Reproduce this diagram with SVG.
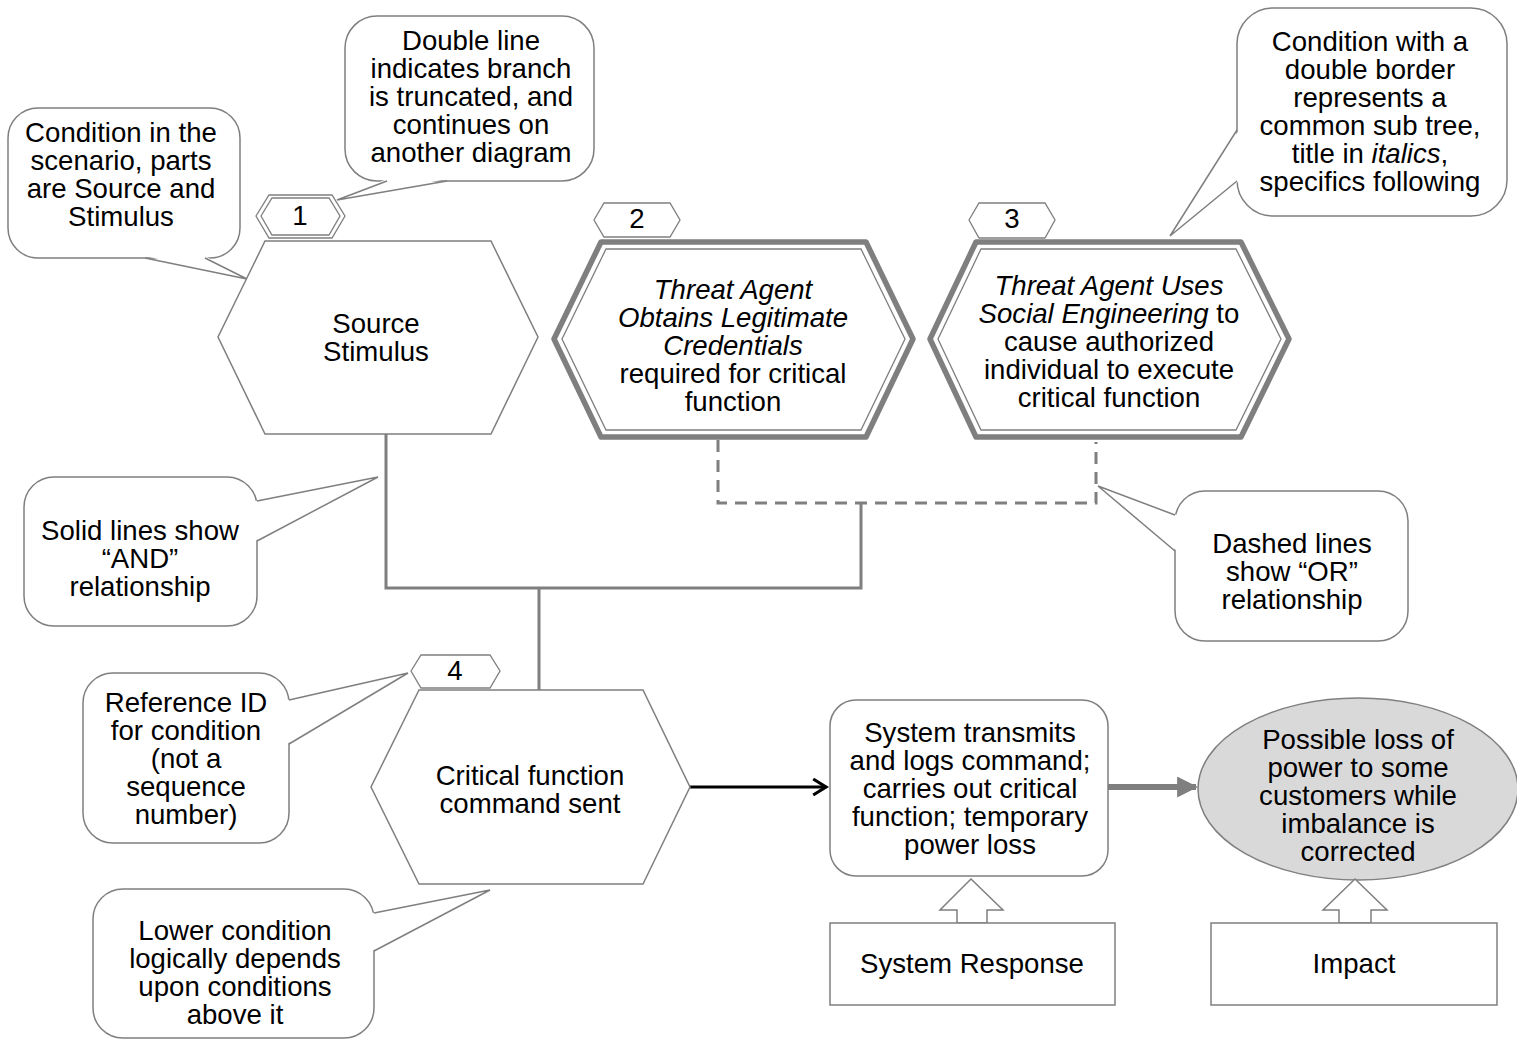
<svg xmlns="http://www.w3.org/2000/svg" width="1517" height="1039" viewBox="0 0 1517 1039">
<defs>
<style>
text{font-family:"Liberation Sans",Arial,sans-serif;font-size:27.6px;fill:#000;text-anchor:middle}
.i{font-style:italic}
.co{fill:#fff;stroke:#7f7f7f;stroke-width:1.5}
.cov{fill:#fff;stroke:none}
.tl{fill:none;stroke:#7f7f7f;stroke-width:1.5;stroke-linejoin:miter}
.hex{fill:#fff;stroke:#7f7f7f;stroke-width:1.5}
.hexT{fill:#fff;stroke:#7f7f7f;stroke-width:5.5;stroke-linejoin:round}
.hexI{fill:none;stroke:#7f7f7f;stroke-width:1.3}
.tag{fill:#fff;stroke:#7f7f7f;stroke-width:1.3}
.and{fill:none;stroke:#7f7f7f;stroke-width:3}
.or{fill:none;stroke:#7f7f7f;stroke-width:3;stroke-dasharray:12 8}
.box{fill:#fff;stroke:#7f7f7f;stroke-width:1.5}
</style>
<marker id="chev" viewBox="0 0 12 12" refX="10" refY="6" markerWidth="6" markerHeight="6" markerUnits="strokeWidth" orient="auto">
<path d="M2,1 L10,6 L2,11" fill="none" stroke="#000" stroke-width="2"/>
</marker>
<marker id="tri" viewBox="0 0 10 10" refX="9" refY="5" markerWidth="3.5" markerHeight="3.5" markerUnits="strokeWidth" orient="auto">
<path d="M0,0 L10,5 L0,10 z" fill="#7f7f7f"/>
</marker>
</defs>

<g id="connectors">
<path class="and" d="M386,434 V588 H861 V503"/>
<path class="and" d="M539,588 V690"/>
<path class="or" d="M718,440 V503 H1096 V442"/>
<line x1="690" y1="787" x2="826" y2="787" stroke="#000" stroke-width="3.2" marker-end="url(#chev)"/>
<line x1="1108" y1="787" x2="1196" y2="787" stroke="#7f7f7f" stroke-width="6" marker-end="url(#tri)"/>
</g>

<g id="callout-condition">
<rect class="co" x="8" y="108" width="232" height="150" rx="30"/>
<polygon class="cov" points="145,256 247,279 205,256"/>
<polyline class="tl" points="145,258 247,279 205,258"/>
<text x="121" y="142">Condition in the</text>
<text x="121" y="170">scenario, parts</text>
<text x="121" y="198">are Source and</text>
<text x="121" y="226">Stimulus</text>
</g>

<g id="callout-double-line">
<rect class="co" x="345" y="16" width="249" height="165" rx="32"/>
<polygon class="cov" points="387,179 337,200 447,179"/>
<polyline class="tl" points="387,181 337,200 447,181"/>
<text x="471" y="50">Double line</text>
<text x="471" y="78">indicates branch</text>
<text x="471" y="106">is truncated, and</text>
<text x="471" y="134">continues on</text>
<text x="471" y="162">another diagram</text>
</g>

<g id="callout-double-border">
<rect class="co" x="1237" y="8" width="270" height="208" rx="36"/>
<polygon class="cov" points="1239,130 1170,236 1239,181"/>
<polyline class="tl" points="1237,130 1170,236 1237,181"/>
<text x="1370" y="51">Condition with a</text>
<text x="1370" y="79">double border</text>
<text x="1370" y="107">represents a</text>
<text x="1370" y="135">common sub tree,</text>
<text x="1370" y="163">title in <tspan class="i">italics</tspan>,</text>
<text x="1370" y="191">specifics following</text>
</g>

<g id="tag1">
<polygon class="tag" points="256,216 269,195 332,195 345,216 332,238 269,238"/>
<polygon class="tag" points="261,216 272,198 329,198 340,216 329,235 272,235"/>
<text x="300" y="225">1</text>
</g>

<g id="tag2">
<polygon class="tag" points="594,220 604,203 670,203 680,220 670,237 604,237"/>
<text x="637" y="228">2</text>
</g>

<g id="tag3">
<polygon class="tag" points="969,220 979,203 1045,203 1055,220 1045,238 979,238"/>
<text x="1012" y="228">3</text>
</g>

<g id="node-source-stimulus">
<polygon class="hex" points="265,241 491,241 538,337 491,434 265,434 218,337"/>
<text x="376" y="333">Source</text>
<text x="376" y="361">Stimulus</text>
</g>

<g id="node-credentials">
<polygon class="hexT" points="601,242 866,242 913,339 866,437 601,437 554,339"/>
<polygon class="hexI" points="606,249 861,249 905,339 861,430 606,430 562,339"/>
<text x="733" y="299" class="i">Threat Agent</text>
<text x="733" y="327" class="i">Obtains Legitimate</text>
<text x="733" y="355" class="i">Credentials</text>
<text x="733" y="383">required for critical</text>
<text x="733" y="411">function</text>
</g>

<g id="node-social-engineering">
<polygon class="hexT" points="976,242 1241,242 1289,339 1241,437 976,437 930,339"/>
<polygon class="hexI" points="981,249 1236,249 1281,339 1236,430 981,430 938,339"/>
<text x="1109" y="295" class="i">Threat Agent Uses</text>
<text x="1109" y="323"><tspan class="i">Social Engineering</tspan> to</text>
<text x="1109" y="351">cause authorized</text>
<text x="1109" y="379">individual to execute</text>
<text x="1109" y="407">critical function</text>
</g>

<g id="callout-and">
<rect class="co" x="24" y="477" width="233" height="149" rx="30"/>
<polygon class="cov" points="255,501 378,477 255,541"/>
<polyline class="tl" points="257,501 378,477 257,541"/>
<text x="140" y="540">Solid lines show</text>
<text x="140" y="568">“AND”</text>
<text x="140" y="596">relationship</text>
</g>

<g id="callout-or">
<rect class="co" x="1175" y="491" width="233" height="150" rx="30"/>
<polygon class="cov" points="1177,515 1098,486 1177,551"/>
<polyline class="tl" points="1175,515 1098,486 1175,551"/>
<text x="1292" y="553">Dashed lines</text>
<text x="1292" y="581">show “OR”</text>
<text x="1292" y="609">relationship</text>
</g>

<g id="callout-reference">
<rect class="co" x="83" y="673" width="206" height="170" rx="30"/>
<polygon class="cov" points="287,700 408,673 287,744"/>
<polyline class="tl" points="289,700 408,673 289,744"/>
<text x="186" y="712">Reference ID</text>
<text x="186" y="740">for condition</text>
<text x="186" y="768">(not a</text>
<text x="186" y="796">sequence</text>
<text x="186" y="824">number)</text>
</g>

<g id="tag4">
<polygon class="tag" points="411,671 421,655 490,655 500,671 490,688 421,688"/>
<text x="455" y="680">4</text>
</g>

<g id="node-critical-function">
<polygon class="hex" points="419,690 643,690 690,787 643,884 419,884 371,787"/>
<text x="530" y="785">Critical function</text>
<text x="530" y="813">command sent</text>
</g>

<g id="callout-lower">
<rect class="co" x="93" y="889" width="281" height="149" rx="30"/>
<polygon class="cov" points="372,913 490,890 372,951"/>
<polyline class="tl" points="374,913 490,890 374,951"/>
<text x="235" y="940">Lower condition</text>
<text x="235" y="968">logically depends</text>
<text x="235" y="996">upon conditions</text>
<text x="235" y="1024">above it</text>
</g>

<g id="node-system-transmits">
<rect class="box" x="830" y="700" width="278" height="176" rx="26"/>
<text x="970" y="742">System transmits</text>
<text x="970" y="770">and logs command;</text>
<text x="970" y="798">carries out critical</text>
<text x="970" y="826">function; temporary</text>
<text x="970" y="854">power loss</text>
</g>

<g id="node-impact-ellipse">
<ellipse cx="1358" cy="789" rx="160" ry="91" fill="#d9d9d9" stroke="#7f7f7f" stroke-width="1.5"/>
<text x="1358" y="749">Possible loss of</text>
<text x="1358" y="777">power to some</text>
<text x="1358" y="805">customers while</text>
<text x="1358" y="833">imbalance is</text>
<text x="1358" y="861">corrected</text>
</g>

<g id="arrow-system-response">
<polygon class="box" points="971,879 1003,910 987,910 987,923 957,923 957,910 940,910"/>
</g>

<g id="arrow-impact">
<polygon class="box" points="1355,879 1387,910 1371,910 1371,923 1339,923 1339,910 1323,910"/>
</g>

<g id="node-system-response">
<rect class="box" x="830" y="923" width="285" height="82"/>
<text x="972" y="973">System Response</text>
</g>

<g id="node-impact">
<rect class="box" x="1211" y="923" width="286" height="82"/>
<text x="1354" y="973">Impact</text>
</g>
</svg>
